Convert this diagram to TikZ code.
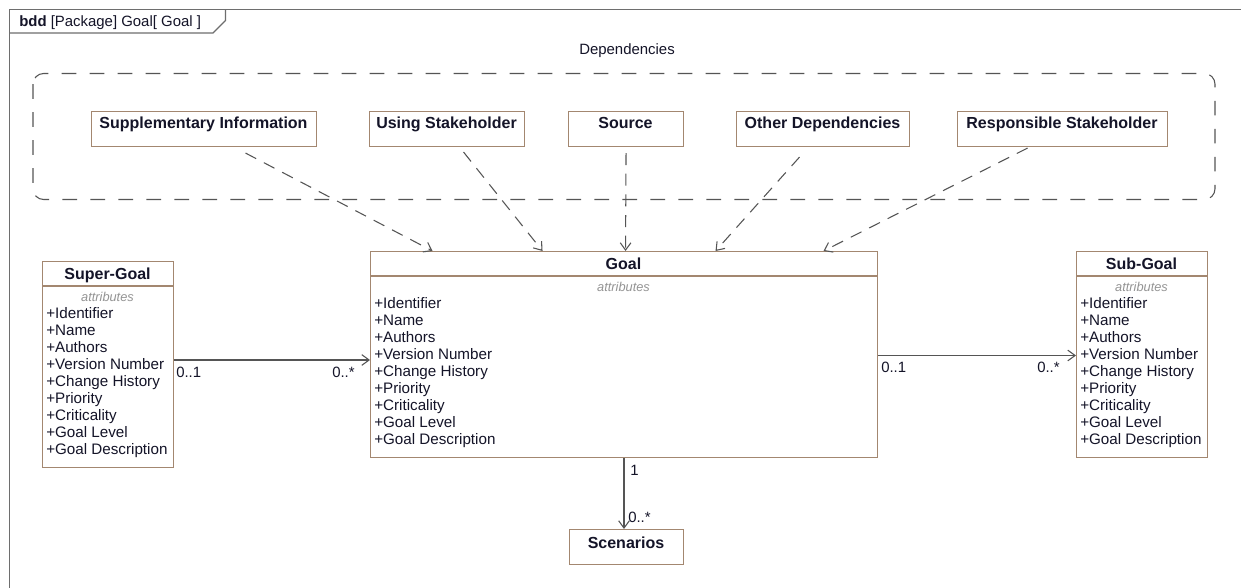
\documentclass[tikz,border=0pt]{standalone}
\usepackage{fontspec}
\setmainfont{Liberation Sans}
\usetikzlibrary{arrows.meta,calc}
\definecolor{bord}{RGB}{163,135,112}
\definecolor{ln}{RGB}{85,85,85}
\definecolor{txt}{RGB}{20,20,40}
\definecolor{frm}{RGB}{110,110,110}
\newcommand\attlist[3]{%
  \foreach \t [count=\i] in {Identifier,Name,Authors,Version Number,Change History,Priority,Criticality,Goal Level,Goal Description}
    \node[attr] (#1\i) at (#2,{#3+17*(\i-1)}) {+\t};}
\begin{document}
\begin{tikzpicture}[x=0.75pt,y=-0.75pt,
  cls/.style={draw=bord,line width=0.8pt,fill=white,inner sep=0pt,anchor=north west},
  ttl/.style={font=\bfseries\fontsize{12}{14}\selectfont,text=txt,inner sep=0pt,anchor=base},
  attrh/.style={font=\itshape\fontsize{9.6}{11}\selectfont,text=black!42,inner sep=0pt,anchor=base},
  attr/.style={font=\fontsize{11.4}{13}\selectfont,text=txt,inner sep=0pt,anchor=base west},
  lbl/.style={font=\fontsize{11.2}{13}\selectfont,text=txt,inner sep=0pt,anchor=base west},
  dep/.style={draw=ln,line width=0.8pt,dash pattern=on 9pt off 6.5pt,-{Straight Barb[length=5.5pt,width=8pt]}},
  assoc/.style={draw=ln,line width=0.8pt,-{Straight Barb[length=5.5pt,width=8pt]}},
  sep/.style={draw=bord,line width=0.8pt}]
\useasboundingbox (0,0) rectangle (1241,588);
\fill[white] (0,0) rectangle (1241,588);
% frame
\draw[frm,line width=0.8pt] (1241,9.5) -- (9.5,9.5) -- (9.5,588);
\draw[frm,line width=0.8pt] (9.5,33) -- (213,33) -- (225.5,20.5) -- (225.5,9.5);
\node[lbl,font=\fontsize{11.2}{13}\selectfont] (tab) at (19,27) {\textbf{bdd} [Package] Goal[ Goal ]};
% dependencies group
\node[font=\fontsize{11.2}{13}\selectfont,text=txt,inner sep=0pt,anchor=base] (deplbl) at (627,55) {Dependencies};
\draw[ln,line width=0.8pt,dash pattern=on 11pt off 10pt,rounded corners=8pt] (33,73.5) rectangle (1215,199.5);
% top boxes
\node[cls,minimum width=225*0.75pt,minimum height=35*0.75pt] (supp) at (91,111) {};
\node[cls,minimum width=155*0.75pt,minimum height=35*0.75pt] (using) at (369,111) {};
\node[cls,minimum width=115*0.75pt,minimum height=35*0.75pt] (source) at (568,111) {};
\node[cls,minimum width=173*0.75pt,minimum height=35*0.75pt] (other) at (736,111) {};
\node[cls,minimum width=210*0.75pt,minimum height=35*0.75pt] (resp) at (957,111) {};
\node[ttl] (suppt) at (203.5,129) {Supplementary Information};
\node[ttl] (usingt) at (446.5,129) {Using Stakeholder};
\node[ttl] (sourcet) at (625.5,129) {Source};
\node[ttl] (othert) at (822.5,129) {Other Dependencies};
\node[ttl] (respt) at (1062,129) {Responsible Stakeholder};
% Goal
\node[cls,minimum width=507*0.75pt,minimum height=206*0.75pt] (goal) at (370,251) {};
\draw[sep] (370,276) -- (877,276);
\node[ttl] (goalt) at (623.5,269) {Goal};
\node[attrh] (goala) at (623.5,291.5) {attributes};
\attlist{g}{374}{308}
% Super-Goal
\node[cls,minimum width=131*0.75pt,minimum height=206*0.75pt] (super) at (42,261) {};
\draw[sep] (42,286) -- (173,286);
\node[ttl] (supert) at (107.5,279) {Super-Goal};
\node[attrh] (supera) at (107.5,301.5) {attributes};
\attlist{s}{46}{318}
% Sub-Goal
\node[cls,minimum width=131*0.75pt,minimum height=206*0.75pt] (sub) at (1076,251) {};
\draw[sep] (1076,276) -- (1207,276);
\node[ttl] (subt) at (1141.5,269) {Sub-Goal};
\node[attrh] (suba) at (1141.5,291.5) {attributes};
\attlist{b}{1080}{308}
% Scenarios
\node[cls,minimum width=114*0.75pt,minimum height=35*0.75pt] (scen) at (569,529) {};
\node[ttl] (scent) at (626,548) {Scenarios};
% dependency arrows
\draw[dep] ($(supp.south)+(41.5,6)$) -- ($(goal.north)+(-191.5,0)$);
\draw[dep] ($(using.south)+(16.5,5)$) -- ($(goal.north)+(-81.5,0)$);
\draw[dep] ($(source.south)+(0,6)$) -- ($(goal.north)+(1.5,0)$);
\draw[dep] ($(other.south)+(-23.5,10)$) -- ($(goal.north)+(91.5,0)$);
\draw[dep] ($(resp.south)+(-35,1)$) -- ($(goal.north)+(199.5,0)$);
% associations
\draw[assoc] (super.east |- 0,360) -- (goal.west |- 0,360);
\node[lbl] (l1) at (176,377) {0..1};
\node[lbl] (l2) at (332,377) {0..*};
\draw[assoc] (goal.east |- 0,355.5) -- (sub.west |- 0,355.5);
\node[lbl] (l3) at (881,372) {0..1};
\node[lbl] (l4) at (1037,372) {0..*};
\draw[assoc] (goal.south -| 624,0) -- (scen.north -| 624,0);
\node[lbl] (l5) at (630,475) {1};
\node[lbl] (l6) at (628,522) {0..*};
\end{tikzpicture}
\end{document}
